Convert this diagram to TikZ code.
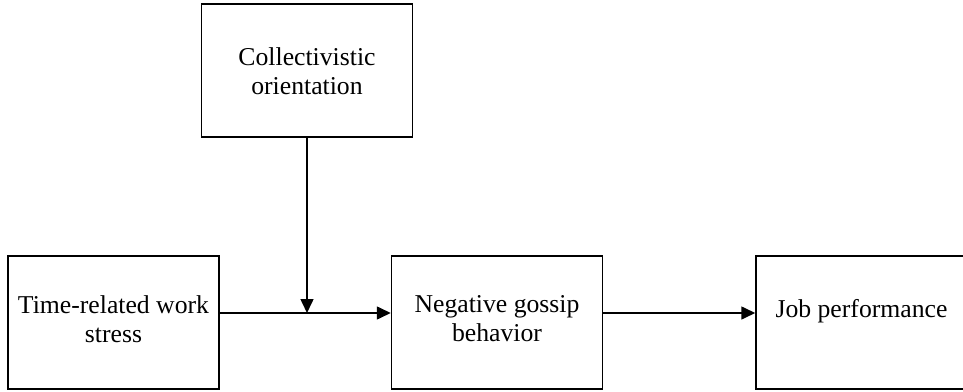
\documentclass[tikz,border=0pt]{standalone}
\usepackage{fontspec}
\setmainfont{Liberation Serif}
\usetikzlibrary{arrows.meta}
\begin{document}
\begin{tikzpicture}[x=1pt,y=1pt]
		\tikzset{box/.style = {draw, line width=1.5pt, minimum width=211pt, minimum height=133pt, inner sep=0pt}}
		\tikzset{txt/.style = {align=center, font=\fontsize{25.7}{29}\selectfont, inner sep=0pt}}
		\tikzset{edge/.style = {-{Triangle[length=14pt,width=13pt]}, line width=1.6pt}}
		
		\useasboundingbox (0,0) rectangle (963,391);
		\clip (0,0) rectangle (963,391);
		
		\node[box] (stress) at (113.5, 68.5) {};
		\node[box] (coll)   at (307.0,320.5) {};
		\node[box] (gossip) at (497.0, 68.5) {};
		\node[box] (job)    at (861.5, 68.5) {};
		
		\node[txt] (t1) at (113.5, 72) {Time-related work\\stress};
		\node[txt] (t2) at (307.0,320) {Collectivistic\\orientation};
		\node[txt] (t3) at (497.0, 72) {Negative gossip\\behavior};
		\node[txt] (t4) at (861.5, 80) {Job performance};
		
		\coordinate (a1) at (stress.east |- 0,78);
		\coordinate (a2) at (gossip.west |- 0,78);
		\coordinate (a3) at (gossip.east |- 0,78);
		\coordinate (a4) at (job.west |- 0,78);
		\coordinate (m)  at (coll.south |- 0,78);
		
		\draw[edge] (a1) to (a2);
		\draw[edge] (a3) to (a4);
		\draw[edge] (coll.south) to (m);
\end{tikzpicture}
\end{document}
